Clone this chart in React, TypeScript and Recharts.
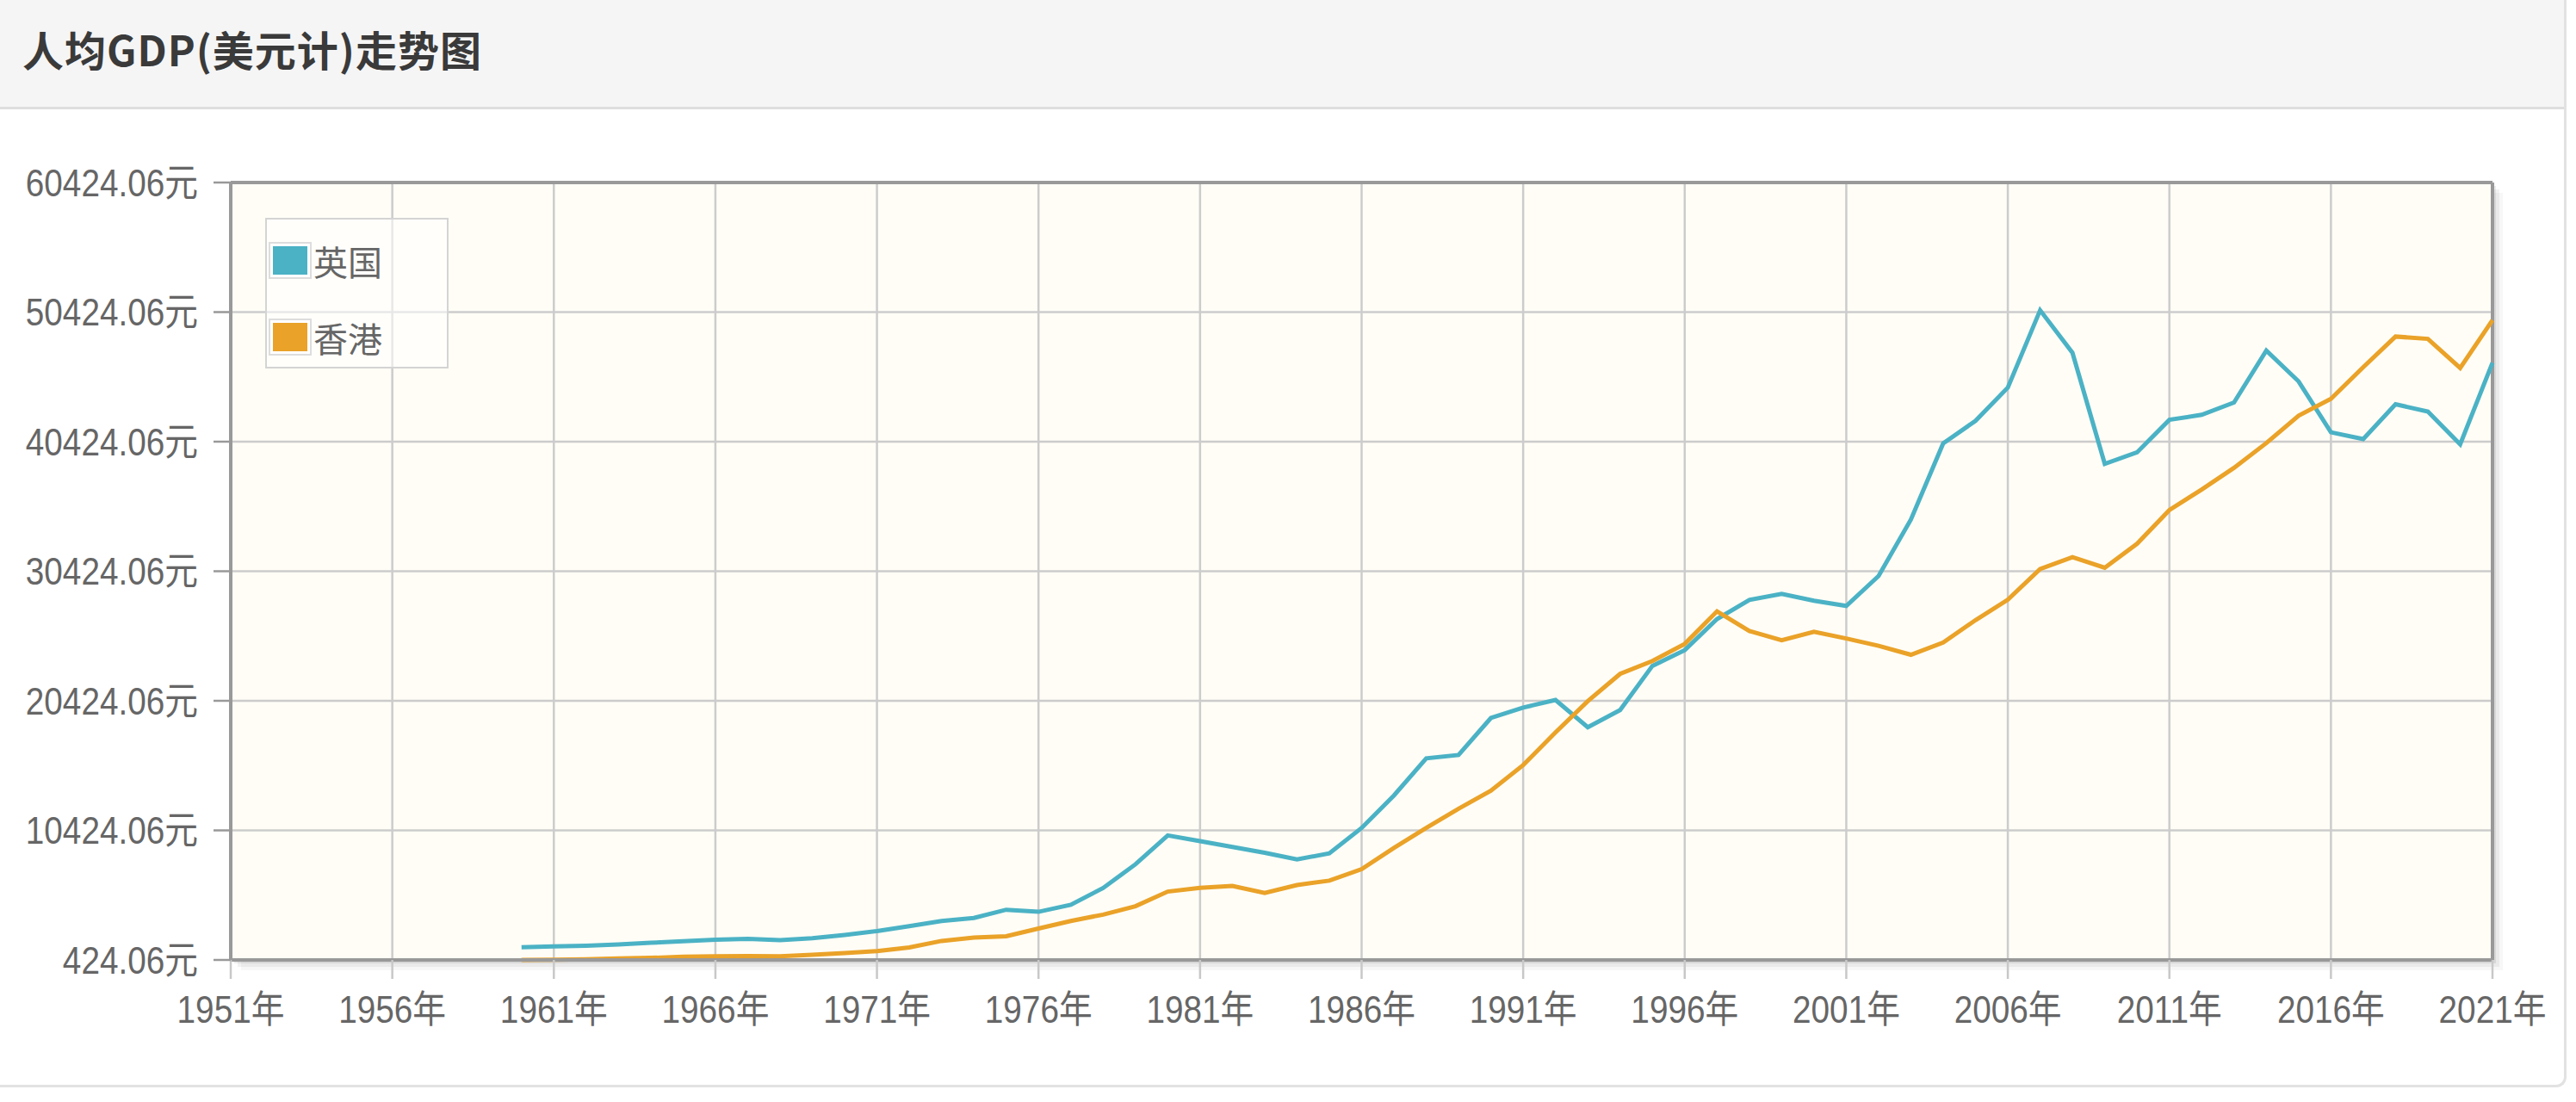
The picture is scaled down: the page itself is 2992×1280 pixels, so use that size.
import React from 'react';
import { LineChart, Line, XAxis, YAxis, CartesianGrid, ReferenceLine, Legend } from 'recharts';

const years = [
  1960, 1961, 1962, 1963, 1964, 1965, 1966, 1967, 1968, 1969,
  1970, 1971, 1972, 1973, 1974, 1975, 1976, 1977, 1978, 1979,
  1980, 1981, 1982, 1983, 1984, 1985, 1986, 1987, 1988, 1989,
  1990, 1991, 1992, 1993, 1994, 1995, 1996, 1997, 1998, 1999,
  2000, 2001, 2002, 2003, 2004, 2005, 2006, 2007, 2008, 2009,
  2010, 2011, 2012, 2013, 2014, 2015, 2016, 2017, 2018, 2019,
  2020, 2021,
];

const ukGdp = [
  1397.6, 1472.4, 1525.8, 1613.5, 1748.3, 1873.6, 1986.7, 2058.8, 1951.8, 2100.7,
  2347.5, 2649.8, 3030.4, 3426.3, 3665.9, 4299.7, 4138.2, 4681.4, 5976.9, 7804.8,
  10032.1, 9599.3, 9146.1, 8691.5, 8179.2, 8652.2, 10611.1, 13118.6, 15987.2, 16239.3,
  19095.5, 19900.7, 20487.2, 18389.0, 19709.2, 23123.1, 24332.7, 26734.6, 28214.0, 28669.5,
  28150.0, 27744.9, 30056.6, 34419.4, 40290.3, 42030.3, 44599.7, 50566.8, 47287.0, 38713.1,
  39598.7, 42109.9, 42497.3, 43449.1, 47447.6, 45071.1, 41146.1, 40622.2, 43306.3, 42747.1,
  40217.0, 46510.3,
];

const hkGdp = [
  429.6, 445.1, 476.7, 542.9, 582.3, 676.8, 709.6, 723.2, 712.0, 817.7,
  960.0, 1106.5, 1384.7, 1893.3, 2144.9, 2252.1, 2850.9, 3429.8, 3923.6, 4569.8,
  5700.4, 5991.2, 6133.9, 5595.3, 6208.1, 6542.9, 7435.0, 9071.9, 10609.6, 12097.8,
  13485.5, 15465.9, 17976.4, 20395.5, 22502.6, 23497.5, 24818.2, 27330.0, 25808.9, 25091.7,
  25756.7, 25230.2, 24665.9, 23977.0, 24928.1, 26649.9, 28224.2, 30594.0, 31515.7, 30697.1,
  32549.9, 35142.5, 36730.9, 38403.8, 40315.3, 42431.9, 43731.7, 46165.9, 48537.6, 48356.1,
  46109.1, 49800.5,
];

const xTicks = [1951, 1956, 1961, 1966, 1971, 1976, 1981, 1986, 1991, 1996, 2001, 2006, 2011, 2016, 2021];
const yTicks = [424.06, 10424.06, 20424.06, 30424.06, 40424.06, 50424.06, 60424.06];

const seriesNames = ['英国', '香港'];
const seriesColors = ['#4bb2c5', '#eaa228'];
const titleText = '人均GDP(美元计)走势图';

const data = years.map((year, i) => ({ year, uk: ukGdp[i], hk: hkGdp[i] }));

const W = 2992;
const H = 1280;
const PLOT_LEFT = 268;
const PLOT_TOP = 212;
const PLOT_RIGHT = 2895;
const PLOT_BOTTOM = 1115;
const X_AXIS_H = 60;

const tickFont = '"Liberation Sans", Arial, "Noto Sans CJK SC", sans-serif';
const TICK_SCALE_X = 0.88;

const XTick = (props: any) => {
  const { x, y, payload } = props;
  return (
    <g transform={`translate(${x},${y})`}>
      <text
        x={0}
        y={0}
        dy="0.8em"
        textAnchor="middle"
        transform={`scale(${TICK_SCALE_X},1)`}
        fill="#666666"
        fontSize={44}
        fontFamily={tickFont}
      >
        {`${payload.value}年`}
      </text>
    </g>
  );
};

const YTick = (props: any) => {
  const { x, y, payload } = props;
  return (
    <g transform={`translate(${x},${y})`}>
      <text
        x={0}
        y={0}
        dy="0.36em"
        textAnchor="end"
        transform={`scale(${TICK_SCALE_X},1)`}
        fill="#666666"
        fontSize={44}
        fontFamily={tickFont}
      >
        {`${Number(payload.value).toFixed(2)}元`}
      </text>
    </g>
  );
};

const LegendBox = (props: any) => {
  const payload = props.payload || [];
  return (
    <div
      style={{
        width: 209,
        height: 171,
        border: '2px solid #d4d4d4',
        background: 'rgba(255,255,255,0.55)',
        boxSizing: 'content-box',
        position: 'relative',
      }}
    >
      {payload.map((p: any, i: number) => (
        <div
          key={p.value}
          style={{
            position: 'absolute',
            left: 2,
            top: 26 + i * 89,
            display: 'flex',
            alignItems: 'center',
          }}
        >
          <div style={{ border: '2px solid #dddddd', padding: 3, background: '#fff' }}>
            <div style={{ width: 40, height: 33, background: p.color }} />
          </div>
          <span
            style={{
              marginLeft: 2,
              fontSize: 40,
              color: '#666',
              fontFamily: '"Noto Sans CJK SC", sans-serif',
              lineHeight: '40px',
            }}
          >
            {p.value}
          </span>
        </div>
      ))}
    </div>
  );
};

export default function App() {
  return (
    <div style={{ position: 'absolute', left: 0, top: 0, width: W, height: H, background: '#fff', overflow: 'hidden' }}>
      <div
        style={{
          position: 'absolute',
          left: 0,
          top: 0,
          width: 2981,
          height: 1263,
          boxSizing: 'border-box',
          borderRight: '3px solid #e2e2e2',
          borderBottom: '3px solid #e2e2e2',
          borderBottomRightRadius: 12,
        }}
      />
      <div
        style={{
          position: 'absolute',
          left: 0,
          top: 0,
          width: 2978,
          height: 124,
          background: '#f5f5f5',
          borderBottom: '3px solid #dedede',
        }}
      >
        <span
          style={{
            position: 'absolute',
            left: 26,
            top: 25,
            fontSize: 48,
            lineHeight: '62px',
            letterSpacing: 1,
            color: '#3a3a3a',
            fontWeight: 700,
            fontFamily: '"Noto Sans CJK SC", sans-serif',
            whiteSpace: 'nowrap',
          }}
        >
          {titleText}
        </span>
      </div>
      <div
        style={{
          position: 'absolute',
          left: PLOT_LEFT,
          top: PLOT_TOP,
          width: PLOT_RIGHT - PLOT_LEFT,
          height: PLOT_BOTTOM - PLOT_TOP,
          boxShadow:
            '4px 4px 0 rgba(0,0,0,0.08), 8px 8px 0 rgba(0,0,0,0.05), 12px 12px 0 rgba(0,0,0,0.03)',
        }}
      />
      <div style={{ position: 'absolute', left: 0, top: 0 }}>
        <LineChart
          width={W}
          height={H}
          data={data}
          margin={{ top: PLOT_TOP, right: W - PLOT_RIGHT, bottom: H - PLOT_BOTTOM - X_AXIS_H, left: 0 }}
        >
          <CartesianGrid stroke="#cccccc" strokeWidth={2.5} fill="#fffdf6" />
          <XAxis
            dataKey="year"
            type="number"
            domain={[1951, 2021]}
            ticks={xTicks}
            interval={0}
            height={X_AXIS_H}
            axisLine={{ stroke: '#999999', strokeWidth: 4 }}
            tickLine={{ stroke: '#c8c8c8', strokeWidth: 2.5 }}
            tickSize={22}
            tickMargin={16}
            tick={<XTick />}
          />
          <YAxis
            type="number"
            domain={[424.06, 60424.06]}
            ticks={yTicks}
            interval={0}
            width={PLOT_LEFT}
            axisLine={{ stroke: '#999999', strokeWidth: 4 }}
            tickLine={{ stroke: '#999999', strokeWidth: 2.5 }}
            tickSize={20}
            tickMargin={18}
            tick={<YTick />}
          />
          <ReferenceLine x={2021} stroke="#999999" strokeWidth={4} />
          <ReferenceLine y={60424.06} stroke="#999999" strokeWidth={4} />
          <Legend
            layout="vertical"
            align="center"
            verticalAlign="middle"
            content={<LegendBox />}
            wrapperStyle={{ position: 'absolute', left: 308, top: 253, width: 213, height: 175 }}
          />
          <Line
            type="linear"
            dataKey="uk"
            name={seriesNames[0]}
            stroke={seriesColors[0]}
            strokeWidth={5}
            dot={false}
            activeDot={false}
            isAnimationActive={false}
          />
          <Line
            type="linear"
            dataKey="hk"
            name={seriesNames[1]}
            stroke={seriesColors[1]}
            strokeWidth={5}
            dot={false}
            activeDot={false}
            isAnimationActive={false}
          />
        </LineChart>
      </div>
    </div>
  );
}
